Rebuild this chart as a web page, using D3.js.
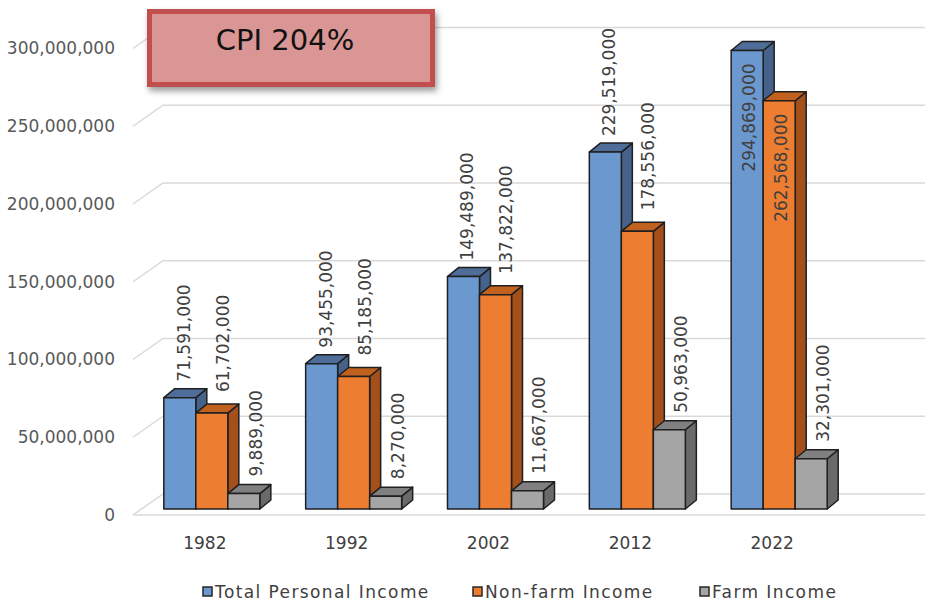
<!DOCTYPE html>
<html><head><meta charset="utf-8">
<script src="https://cdn.jsdelivr.net/npm/d3@7"></script>
<style>body{margin:0;background:#fff}svg{display:block}</style>
</head><body>
<svg id="chart" width="925" height="602"></svg>
<script>
const years = ["1982", "1992", "2002", "2012", "2022"];
const seriesNames = ["Total Personal Income", "Non-farm Income", "Farm Income"];
const totalIncome = [71591000, 93455000, 149489000, 229519000, 294869000];
const nonFarmIncome = [61702000, 85185000, 137822000, 178556000, 262568000];
const farmIncome = [9889000, 8270000, 11667000, 50963000, 32301000];
const yTicks = [0, 50000000, 100000000, 150000000, 200000000, 250000000, 300000000];
const calloutText = "CPI 204%";

const seriesValues = [totalIncome, nonFarmIncome, farmIncome];
const colors = [
  {front: "#6B98CF", top: "#4E6D99", side: "#46618A"},
  {front: "#ED7D31", top: "#C0611F", side: "#A3501A"},
  {front: "#A5A5A5", top: "#808080", side: "#6A6A6A"}
];
// label placement per series (layout only)
const labelDx = [4, 11, 12];
const labelGap = [16, 21, 17];
const FONT = "'DejaVu Sans', sans-serif";
const svg = d3.select("#chart");

const y = d3.scaleLinear().domain([0, 300000000]).range([509, 42.5]);
const x = d3.scaleBand().domain(years).range([118, 873]).padding(0.323);
const xi = d3.scaleBand().domain(seriesNames).range([0, x.bandwidth()]);
const DX = 11, DY = 9;
const FRONT = 6, BACK = 15;

// gridlines (3D wall)
const grid = svg.append("g");
yTicks.forEach(v => {
  grid.append("path")
    .attr("d", `M133,${y(v) + FRONT} L163,${y(v) - BACK} L925,${y(v) - BACK}`)
    .attr("fill", "none").attr("stroke", "#D9D9D9").attr("stroke-width", 1.5);
});
grid.append("path").attr("d", `M133,${y(0) + FRONT} L925,${y(0) + FRONT}`)
  .attr("fill", "none").attr("stroke", "#D9D9D9").attr("stroke-width", 1.5);

// y axis labels
svg.append("g").selectAll("text").data(yTicks).join("text")
  .attr("x", 115).attr("y", d => y(d) + FRONT).attr("dy", "0.35em")
  .attr("text-anchor", "end").attr("font-family", FONT).attr("font-size", 17)
  .attr("fill", "#595959").text(d => d3.format(",")(d));

// bars
const bars = svg.append("g").attr("stroke", "#1F1F1F").attr("stroke-width", 1.5).attr("stroke-linejoin", "round");
const labelData = [];
years.forEach((yr, i) => {
  seriesNames.forEach((s, j) => {
    const v = seriesValues[j][i];
    const xl = x(yr) + xi(s), w = xi.bandwidth();
    const yt = y(v), yb = y(0);
    const c = colors[j];
    bars.append("polygon")
      .attr("points", [[xl + w, yt], [xl + w + DX, yt - DY], [xl + w + DX, yb - DY], [xl + w, yb]].map(p => p.join(",")).join(" "))
      .attr("fill", c.side);
    bars.append("polygon")
      .attr("points", [[xl, yt], [xl + DX, yt - DY], [xl + w + DX, yt - DY], [xl + w, yt]].map(p => p.join(",")).join(" "))
      .attr("fill", c.top);
    bars.append("rect").attr("x", xl).attr("y", yt).attr("width", w).attr("height", yb - yt)
      .attr("fill", c.front);
    labelData.push({v, j, cx: xl + w / 2, yt});
  });
});

// value labels
const fmt = d3.format(",");
const lbl = svg.append("g");
labelData.forEach(d => {
  const t = lbl.append("text")
    .attr("font-family", FONT).attr("font-size", 17).attr("fill", "#404040")
    .attr("dy", "0.35em").text(fmt(d.v));
  const len = t.node().getComputedTextLength();
  const inside = d.yt - labelGap[d.j] - len < 0;
  if (inside) {
    t.attr("text-anchor", "end").attr("transform", `translate(${d.cx + 2},${d.yt + 13}) rotate(-90)`);
  } else {
    t.attr("text-anchor", "start").attr("transform", `translate(${d.cx + labelDx[d.j]},${d.yt - labelGap[d.j]}) rotate(-90)`);
  }
});

// x labels
svg.append("g").selectAll("text").data(years).join("text")
  .attr("x", d => x(d) + x.bandwidth() / 2 - 7).attr("y", 549)
  .attr("text-anchor", "middle").attr("font-family", FONT).attr("font-size", 17)
  .attr("fill", "#404040").text(d => d);

// legend
const legX = [203, 473, 700];
const leg = svg.append("g");
seriesNames.forEach((s, j) => {
  leg.append("rect").attr("x", legX[j]).attr("y", 587).attr("width", 9).attr("height", 9)
    .attr("fill", colors[j].front).attr("stroke", "#262626").attr("stroke-width", 1.5);
  leg.append("text").attr("x", legX[j] + 12).attr("y", 598)
    .attr("font-family", FONT).attr("font-size", 17).attr("letter-spacing", 1.4)
    .attr("fill", "#404040").text(s);
});

// callout box
const defs = svg.append("defs");
const f = defs.append("filter").attr("id", "sh").attr("x", "-10%").attr("y", "-20%").attr("width", "130%").attr("height", "160%");
f.append("feDropShadow").attr("dx", 2).attr("dy", 4).attr("stdDeviation", 3).attr("flood-color", "#000").attr("flood-opacity", 0.4);
svg.append("rect").attr("x", 149.5).attr("y", 11.5).attr("width", 283).attr("height", 73)
  .attr("fill", "#D99694").attr("stroke", "#C0504D").attr("stroke-width", 5).attr("filter", "url(#sh)");
svg.append("text").attr("x", 285).attr("y", 50).attr("text-anchor", "middle")
  .attr("font-family", FONT).attr("font-size", 29).attr("fill", "#111").text(calloutText);
</script>
</body></html>
